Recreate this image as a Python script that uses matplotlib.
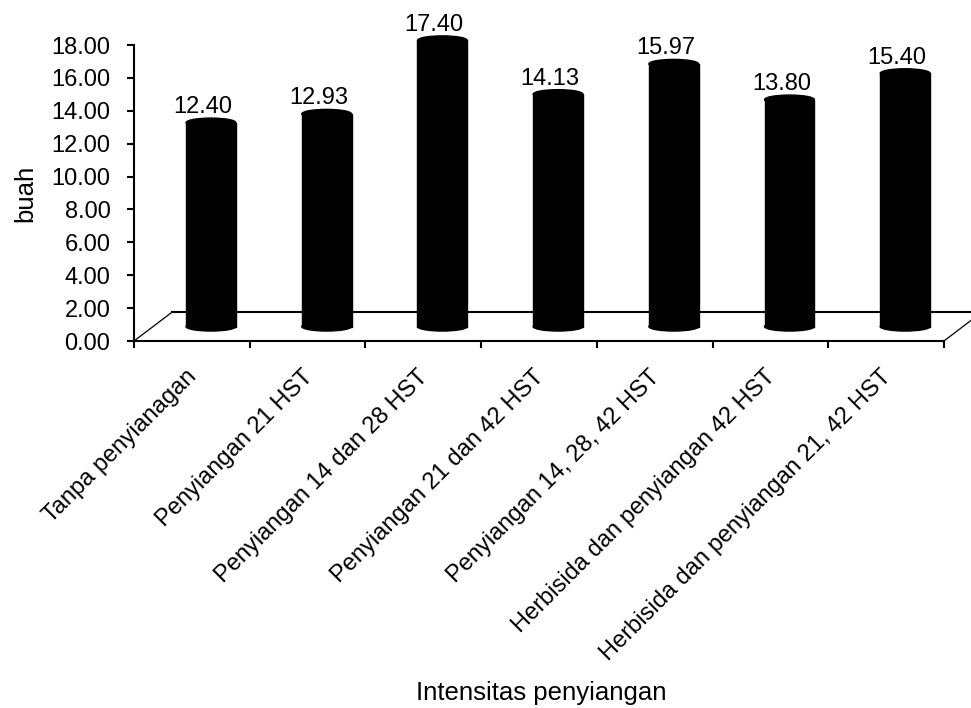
import matplotlib
matplotlib.use("Agg")
import matplotlib.pyplot as plt
from matplotlib.patches import Rectangle, Ellipse
from matplotlib.transforms import ScaledTranslation

plt.rcParams['font.family'] = ['Liberation Sans', 'DejaVu Sans']

categories = [
    'Tanpa penyianagan',
    'Penyiangan 21 HST',
    'Penyiangan 14 dan 28 HST',
    'Penyiangan 21 dan 42 HST',
    'Penyiangan 14, 28, 42 HST',
    'Herbisida dan penyiangan 42 HST',
    'Herbisida dan penyiangan 21, 42 HST',
]
values = [12.40, 12.93, 17.40, 14.13, 15.97, 13.80, 15.40]
y_ticks = [0, 2, 4, 6, 8, 10, 12, 14, 16, 18]

# fake 3d floor depth (in data units) and cylinder size
depth_x = 0.33
depth_y = 1.76
cyl_w = 0.43
cyl_eh = 0.55

fig = plt.figure(figsize=(9.71, 7.08), dpi=100)
ax = fig.add_axes([134 / 971, (708 - 341) / 708, 837 / 971, (341 - 45) / 708])
n = len(categories)
ax.set_xlim(0, 837 / 115.7)
ax.set_ylim(0, 18)

for s in ['top', 'right']:
    ax.spines[s].set_visible(False)
ax.spines['left'].set_bounds(0, 18)
ax.spines['bottom'].set_bounds(0, n)
ax.spines['left'].set_linewidth(1.5)
ax.spines['bottom'].set_linewidth(1.5)

# floor of the 3d box
ax.plot([0, depth_x], [0, depth_y], color='black', lw=0.9, zorder=1)
ax.plot([n, n + depth_x], [0, depth_y], color='black', lw=0.9, zorder=1)
ax.plot([depth_x, n + 1], [depth_y, depth_y], color='black', lw=1.5, zorder=1)

# cylinders
for i, v in enumerate(values):
    cx = i + 0.5 + depth_x / 2
    base = depth_y / 2
    top = base + v
    ax.add_patch(Rectangle((cx - cyl_w / 2, base), cyl_w, v, color='black', zorder=3, clip_on=False))
    ax.add_patch(Ellipse((cx, base), cyl_w, cyl_eh, color='black', zorder=3, clip_on=False))
    ax.add_patch(Ellipse((cx, top), cyl_w, cyl_eh, color='black', zorder=4, clip_on=False))
    ax.text(cx - 0.07, top + cyl_eh / 2 + 0.3, f'{v:.2f}', ha='center', va='baseline',
            fontsize=17, zorder=5)

ax.set_yticks(y_ticks)
ax.set_yticklabels([f'{t:.2f}' for t in y_ticks])
ax.tick_params(axis='y', direction='out', length=5, width=1.5, pad=12, labelsize=17)

ax.set_xticks(range(n + 1))
ax.set_xticklabels([])
ax.set_xticks([i + 0.5 for i in range(n)], minor=True)
ax.set_xticklabels(categories, minor=True, rotation=45, ha='right', rotation_mode='anchor',
                   fontsize=17)
ax.tick_params(axis='x', which='major', direction='out', length=5, width=1.5)
ax.tick_params(axis='x', which='minor', length=0, pad=18)
shift = ScaledTranslation(-6 / 100, 0, fig.dpi_scale_trans)
for lbl in ax.get_xticklabels(minor=True):
    lbl.set_transform(lbl.get_transform() + shift)

fig.text(541 / 971, 1 - 693 / 708, 'Intensitas penyiangan', ha='center', va='center', fontsize=18.5)
fig.text(25 / 971, 1 - 193 / 708, 'buah', ha='center', va='center', rotation=90, fontsize=18.5)

fig.savefig('out.png', dpi=100)
